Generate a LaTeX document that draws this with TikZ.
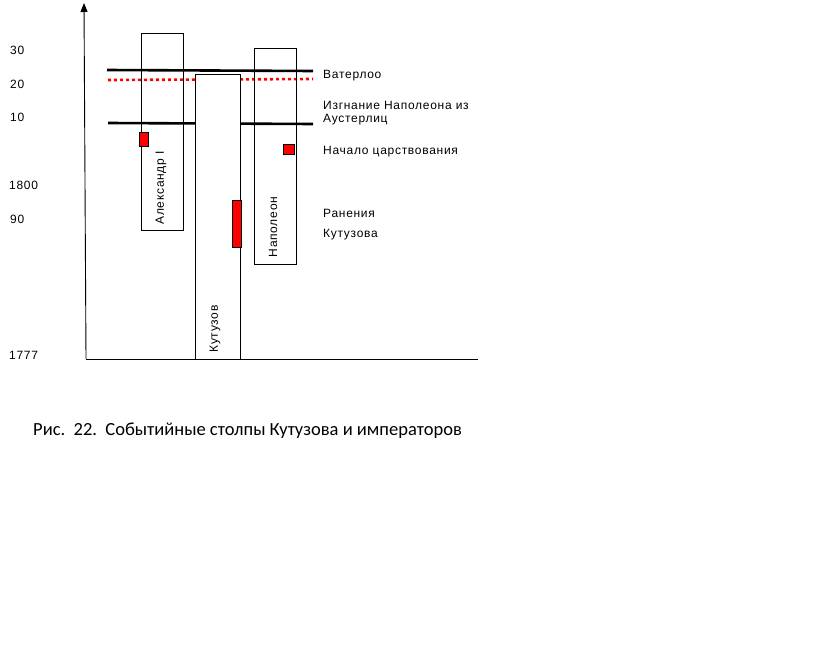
\documentclass[tikz,border=0pt]{standalone}
\usepackage{fontspec}
\setmainfont{Liberation Sans}
\newfontfamily\capfont{Carlito}
\newfontfamily\lblfont[LetterSpace=6]{Liberation Sans}
\usetikzlibrary{arrows.meta}
\begin{document}
\begin{tikzpicture}[x=1pt,y=-1pt,
  lbl/.style={font=\lblfont\fontsize{12}{14}\selectfont, inner sep=0pt, anchor=base west},
  pillar/.style={draw=black, line width=0.9pt, inner sep=0pt, anchor=north west},
  event/.style={draw=black, fill=red, line width=0.8pt, inner sep=0pt, anchor=north west},
  yearline/.style={line width=2.6pt, black},
  exileline/.style={line width=2.6pt, red, dash pattern=on 3pt off 3pt},
  axisline/.style={line width=0.9pt, black},
  vlabel/.style={font=\lblfont\fontsize{12}{14}\selectfont, inner sep=0pt, rotate=90}]
\useasboundingbox (0,0) rectangle (838,645);
\fill[white] (0,0) rectangle (838,645);
% axes
\coordinate (o) at (86,359);
\coordinate (ytop) at (84,3);
\coordinate (xend) at (478,359);
\draw[axisline,-{Triangle[length=9pt,width=7pt]}] (o) -- (ytop);
\draw[axisline] (o) -- (xend);
% year labels
\node[lbl] (y30) at (10,54) {30};
\node[lbl] (y20) at (10,88) {20};
\node[lbl] (y10) at (10,121) {10};
\node[lbl] (y1800) at (9,189) {1800};
\node[lbl] (y90) at (10,223) {90};
\node[lbl] (y1777) at (9,359) {1777};
% event lines
\coordinate (wl) at (107,70);
\coordinate (wr) at (313,71);
\coordinate (el) at (108,80);
\coordinate (er) at (313,79);
\coordinate (al) at (108,123);
\coordinate (ar) at (313,124);
\draw[yearline] (wl) -- (wr);
\draw[exileline] (el) -- (er);
\draw[yearline] (al) -- (ar);
% pillars
\node[pillar, minimum width=42pt, minimum height=197pt] (alex) at (141,33) {};
\node[pillar, minimum width=42pt, minimum height=216pt] (napo) at (254,48) {};
\node[pillar, fill=white, minimum width=45pt, minimum height=285pt] (kutu) at (195,74) {};
% pillar names
\node[vlabel] (alexname) at (161,188) {Александр I};
\node[vlabel] (kutuname) at (215,329) {Кутузов};
\node[vlabel] (naponame) at (273,227) {Наполеон};
% events
\node[event, minimum width=9pt, minimum height=14pt] (alexstart) at (139,132) {};
\node[event, minimum width=11pt, minimum height=10pt] (napostart) at (283,144) {};
\node[event, minimum width=9pt, minimum height=47pt] (wounds) at (232,200) {};
% right labels
\node[lbl] (waterloo) at (323,78) {Ватерлоо};
\node[lbl] (exile) at (323,109) {Изгнание Наполеона из};
\node[lbl] (austerlitz) at (323,122) {Аустерлиц};
\node[lbl] (reign) at (323,154) {Начало царствования};
\node[lbl] (wound1) at (323,217) {Ранения};
\node[lbl] (wound2) at (323,237) {Кутузова};
% caption
\node[font=\capfont\fontsize{18.5}{20}\selectfont, inner sep=0pt, anchor=base west] (caption) at (33,435) {Рис.\ \ 22.\ \ Событийные столпы Кутузова и императоров};
\end{tikzpicture}
\end{document}
